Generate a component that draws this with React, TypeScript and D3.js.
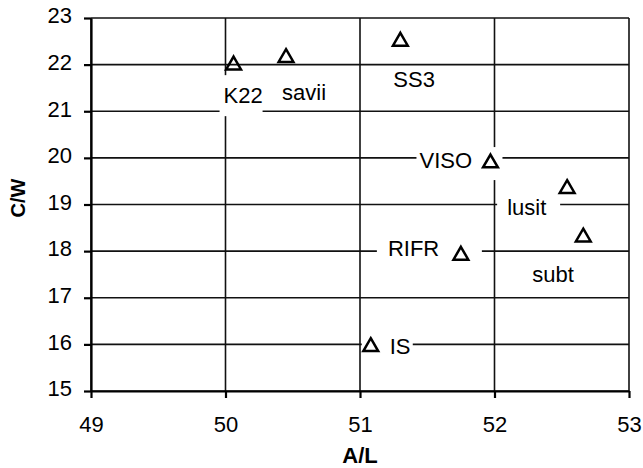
import * as d3 from "d3";
import { useEffect, useRef } from "react";

// species labels with their A/L and C/W values
const names = ["K22", "savii", "SS3", "VISO", "lusit", "subt", "RIFR", "IS"];
const alValues = [50.06, 50.45, 51.3, 51.97, 52.54, 52.66, 51.75, 51.08];
const cwValues = [22.01, 22.17, 22.52, 19.91, 19.36, 18.32, 17.93, 15.97];

const xTicks = [49, 50, 51, 52, 53];
const yTicks = [15, 16, 17, 18, 19, 20, 21, 22, 23];

// label placement (pixels relative to the marker) and white box behind it
const labelLayout = [
  { dx: -10, dy: 39, box: [-14, 11, 29, 52] },
  { dx: -4, dy: 43.5, box: null },
  { dx: -7, dy: 46.5, box: null },
  { dx: -71, dy: 6, box: [-74, -15, 12, 18] },
  { dx: -60, dy: 27.5, box: [-70, 4.5, -7, 34.5] },
  { dx: -51, dy: 46, box: null },
  { dx: -73, dy: 2, box: [-84, -20, 21, 10] },
  { dx: 19, dy: 8, box: [-9, -13, 42, 15] },
];

const font = "'Liberation Sans', Arial, sans-serif";

const ScatterChart: React.FC = () => {
  const ref = useRef<HTMLDivElement | null>(null);

  useEffect(() => {
    const width = 643;
    const height = 468;
    const margin = { top: 18, right: 14, bottom: 77, left: 91 };

    d3.select(ref.current).selectAll("*").remove();

    const svg = d3
      .select(ref.current)
      .append("svg")
      .attr("width", width)
      .attr("height", height)
      .style("display", "block")
      .style("background", "#fff");

    const x = d3
      .scaleLinear()
      .domain([49, 53])
      .range([margin.left, width - margin.right]);
    const y = d3
      .scaleLinear()
      .domain([15, 23])
      .range([height - margin.bottom, margin.top]);

    // grid
    const grid = svg.append("g").attr("stroke", "#111").attr("stroke-width", 1.6);
    grid
      .selectAll(".hg")
      .data(yTicks)
      .enter()
      .append("line")
      .attr("x1", x(49))
      .attr("x2", x(53))
      .attr("y1", (d) => y(d))
      .attr("y2", (d) => y(d));
    grid
      .selectAll(".vg")
      .data(xTicks)
      .enter()
      .append("line")
      .attr("x1", (d) => x(d))
      .attr("x2", (d) => x(d))
      .attr("y1", y(15))
      .attr("y2", y(23));

    const points = names.map((n, i) => ({
      name: n,
      px: x(alValues[i]),
      py: y(cwValues[i]),
      layout: labelLayout[i],
    }));

    // white boxes behind labels
    svg
      .selectAll(".lbox")
      .data(points.filter((p) => p.layout.box))
      .enter()
      .append("rect")
      .attr("x", (p) => p.px + p.layout.box![0])
      .attr("y", (p) => p.py + p.layout.box![1])
      .attr("width", (p) => p.layout.box![2] - p.layout.box![0])
      .attr("height", (p) => p.layout.box![3] - p.layout.box![1])
      .attr("fill", "#fff");

    // axes
    const yAxis = svg
      .append("g")
      .attr("transform", `translate(${margin.left},0)`)
      .call(
        d3.axisLeft(y).tickValues(yTicks).tickFormat(d3.format("d")).tickSize(7).tickPadding(12).tickSizeOuter(0)
      );
    const xAxis = svg
      .append("g")
      .attr("transform", `translate(0,${height - margin.bottom})`)
      .call(
        d3.axisBottom(x).tickValues(xTicks).tickFormat(d3.format("d")).tickSize(7).tickPadding(18).tickSizeOuter(0)
      );

    [yAxis, xAxis].forEach((ax) => {
      ax.select(".domain").attr("stroke", "#000").attr("stroke-width", 2.2);
      ax.selectAll(".tick line").attr("stroke", "#000").attr("stroke-width", 2.2);
      ax.selectAll(".tick text")
        .attr("fill", "#000")
        .style("font-family", font)
        .style("font-size", "22px");
    });
    yAxis.selectAll(".tick text").attr("dy", "0.22em");

    // labels
    svg
      .selectAll(".label")
      .data(points)
      .enter()
      .append("text")
      .attr("x", (p) => p.px + p.layout.dx)
      .attr("y", (p) => p.py + p.layout.dy)
      .attr("fill", "#000")
      .style("font-family", font)
      .style("font-size", "22px")
      .text((p) => p.name);

    // markers
    svg
      .selectAll(".marker")
      .data(points)
      .enter()
      .append("path")
      .attr("transform", (p) => `translate(${p.px},${p.py + 1})`)
      .attr("d", d3.symbol(d3.symbolTriangle, 95)())
      .attr("fill", "none")
      .attr("stroke", "#000")
      .attr("stroke-width", 2.5);

    // axis titles
    svg
      .append("text")
      .attr("x", (x(49) + x(53)) / 2)
      .attr("y", 463)
      .attr("text-anchor", "middle")
      .style("font-family", font)
      .style("font-size", "22px")
      .style("font-weight", "bold")
      .text("A/L");

    svg
      .append("text")
      .attr("transform", `translate(25,${198}) rotate(-90)`)
      .attr("text-anchor", "middle")
      .style("font-family", font)
      .style("font-size", "20px")
      .style("font-weight", "bold")
      .text("C/W");
  }, []);

  return <div ref={ref} style={{ position: "absolute", left: 0, top: 0 }}></div>;
};

export default function App() {
  return <ScatterChart />;
}
